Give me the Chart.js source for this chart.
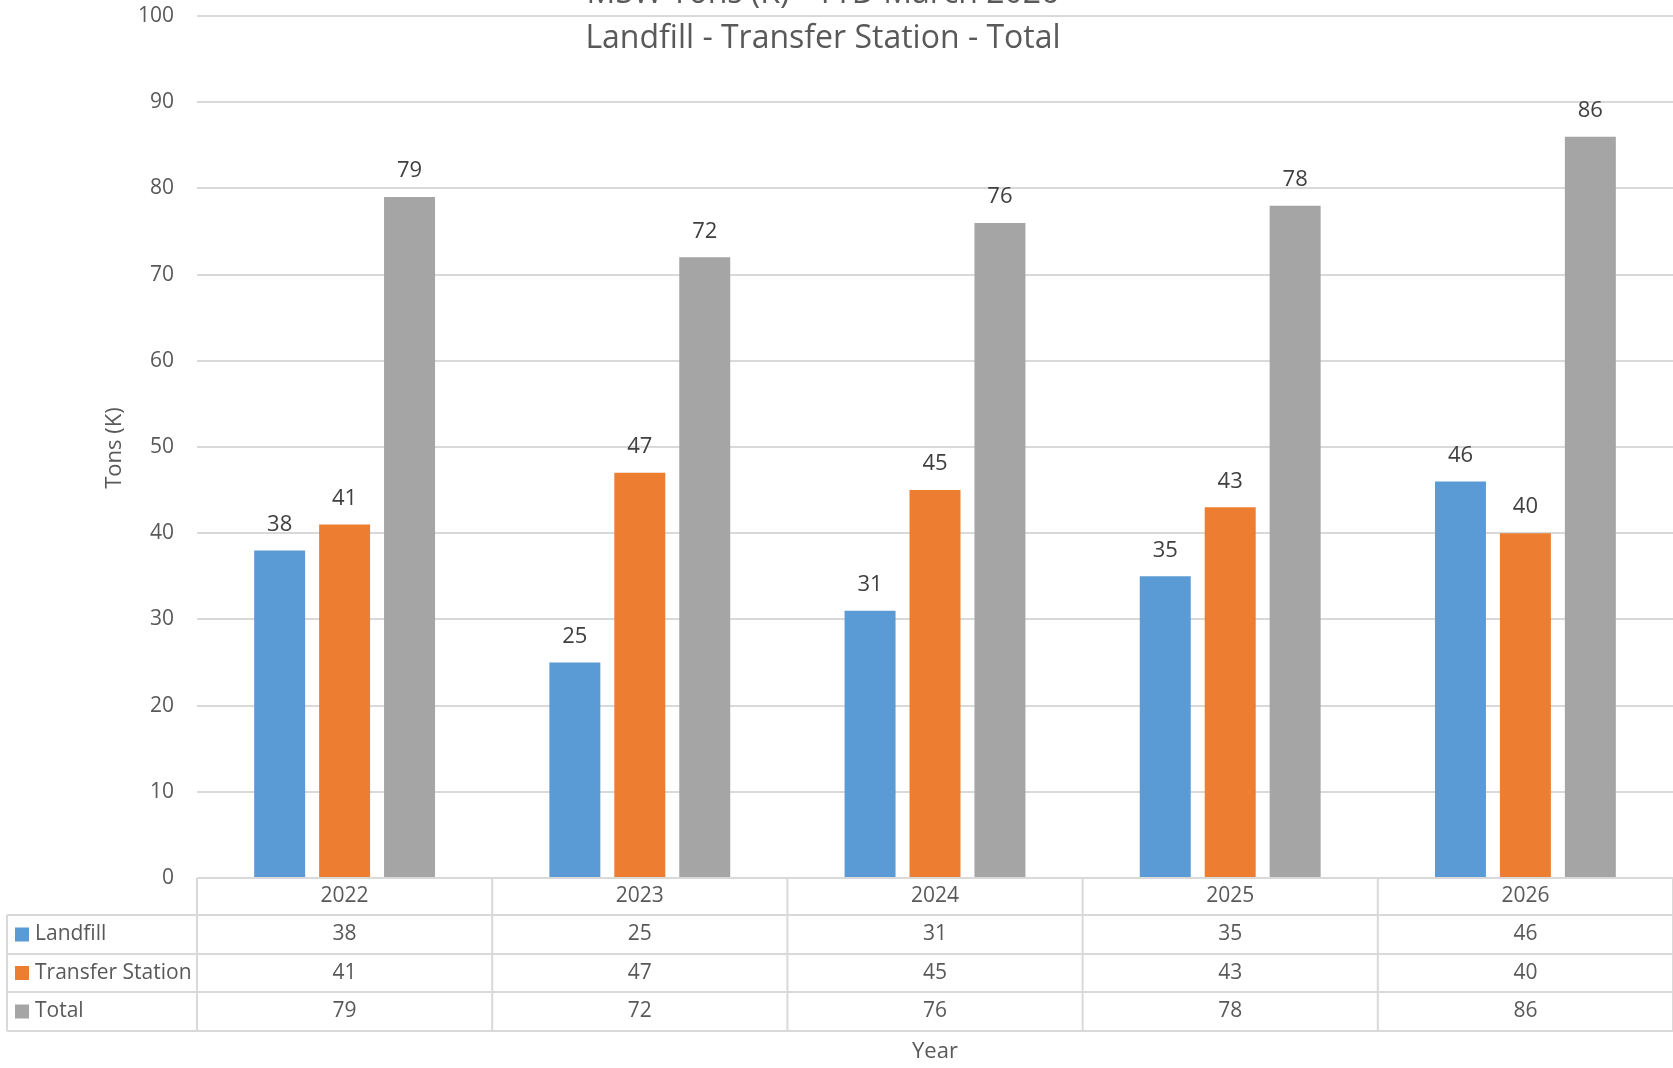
<!DOCTYPE html>
<html>
<head>
<meta charset="utf-8">
<script src="https://cdn.jsdelivr.net/npm/chart.js@4"></script>
<style>
  html, body { margin: 0; padding: 0; background: #fff; }
  #wrap { width: 1673px; height: 1068px; position: relative; }
</style>
</head>
<body>
<div id="wrap"><canvas id="chart"></canvas></div>
<script>
// data
const years = ['2022', '2023', '2024', '2025', '2026'];
const landfill = [38, 25, 31, 35, 46];
const transferStation = [41, 47, 45, 43, 40];
const total = [79, 72, 76, 78, 86];
const seriesNames = ['Landfill', 'Transfer Station', 'Total'];
const titleLines = ['MSW Tons (K) - YTD March 2026', 'Landfill - Transfer Station - Total'];

const colors = ['#5B9BD5', '#ED7D31', '#A5A5A5'];
const textColor = '#595959';
const lineColor = '#D9D9D9';
const fontFamily = '"Open Sans", "Noto Sans", sans-serif';

// labels over bars, data table under the axis, titles
const extras = {
    id: 'extras',
    afterDraw(chart) {
        const ctx = chart.ctx;
        const x = chart.scales.x;
        const area = chart.chartArea;
        ctx.save();

        // value labels above bars
        ctx.font = '22px ' + fontFamily;
        ctx.fillStyle = '#404040';
        ctx.textAlign = 'center';
        ctx.textBaseline = 'middle';
        chart.data.datasets.forEach((ds, i) => {
            chart.getDatasetMeta(i).data.forEach((bar, j) => {
                ctx.fillText(String(ds.data[j]), bar.x, bar.y - 26);
            });
        });

        // table
        const rowTops = [area.bottom, 915, 954, 992, 1031];
        const colW = (x.right - x.left) / years.length;
        ctx.strokeStyle = lineColor;
        ctx.lineWidth = 2;
        ctx.beginPath();
        ctx.moveTo(x.left, rowTops[0]); ctx.lineTo(x.right, rowTops[0]);
        for (let r = 1; r < rowTops.length; r++) {
            ctx.moveTo(7, rowTops[r]); ctx.lineTo(x.right, rowTops[r]);
        }
        ctx.moveTo(7, rowTops[1]); ctx.lineTo(7, rowTops[4]);
        for (let c = 0; c <= years.length; c++) {
            const cx = x.left + c * colW;
            ctx.moveTo(cx, rowTops[0]); ctx.lineTo(cx, rowTops[4]);
        }
        ctx.stroke();

        ctx.font = '21px ' + fontFamily;
        ctx.fillStyle = textColor;
        ctx.textAlign = 'center';
        years.forEach((y, j) => {
            ctx.fillText(y, x.getPixelForValue(j), (rowTops[0] + rowTops[1]) / 2);
        });
        chart.data.datasets.forEach((ds, i) => {
            const cy = (rowTops[i + 1] + rowTops[i + 2]) / 2;
            ds.data.forEach((v, j) => {
                ctx.fillText(String(v), x.getPixelForValue(j), cy);
            });
            ctx.fillStyle = colors[i];
            ctx.fillRect(15, cy - 7, 14, 14);
            ctx.fillStyle = textColor;
            ctx.textAlign = 'left';
            ctx.fillText(seriesNames[i], 35, cy);
            ctx.textAlign = 'center';
        });

        // axis titles
        ctx.font = '22px ' + fontFamily;
        ctx.fillText('Year', (x.left + x.right) / 2, 1052);
        ctx.save();
        ctx.translate(115, 448);
        ctx.rotate(-Math.PI / 2);
        ctx.fillText('Tons (K)', 0, 0);
        ctx.restore();

        // chart title (first line cut off by the top edge)
        ctx.font = '32px ' + fontFamily;
        ctx.textBaseline = 'alphabetic';
        ctx.fillText(titleLines[0], 823, 3);
        ctx.fillText(titleLines[1], 823, 48);

        ctx.restore();
    }
};

const ctx = document.getElementById('chart').getContext('2d');
new Chart(ctx, {
    type: 'bar',
    data: {
        labels: years,
        datasets: [
            { label: seriesNames[0], data: landfill, backgroundColor: colors[0] },
            { label: seriesNames[1], data: transferStation, backgroundColor: colors[1] },
            { label: seriesNames[2], data: total, backgroundColor: colors[2] }
        ]
    },
    options: {
        responsive: true,
        maintainAspectRatio: false,
        animation: false,
        categoryPercentage: 0.66,
        barPercentage: 0.785,
        layout: { padding: { top: 16, left: 0, right: 0, bottom: 0 } },
        plugins: {
            legend: { display: false },
            title: { display: false },
            tooltip: { enabled: false }
        },
        scales: {
            x: {
                ticks: { display: false },
                grid: { display: false },
                border: { display: false },
                afterFit: s => { s.height = 190; }
            },
            y: {
                min: 0,
                max: 100,
                ticks: {
                    stepSize: 10,
                    padding: 23,
                    color: textColor,
                    font: { family: fontFamily, size: 21 }
                },
                grid: { color: lineColor, lineWidth: 2, drawTicks: false },
                border: { display: false },
                afterFit: s => {
                    s.width = 197;
                    s.paddingTop = 0;
                    s.paddingBottom = 0;
                }
            }
        }
    },
    plugins: [extras]
});
</script>
</body>
</html>
